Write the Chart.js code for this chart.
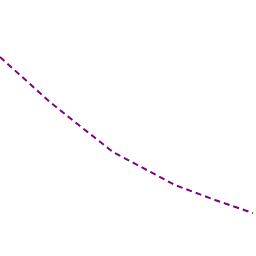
<!DOCTYPE html>
<html>
<head>
<meta charset="utf-8">
<script src="https://cdn.jsdelivr.net/npm/chart.js@4"></script>
<style>
  html, body { margin: 0; padding: 0; background: #fff; }
  #wrap { width: 256px; height: 256px; }
</style>
</head>
<body>
<div id="wrap"><canvas id="lineChart" width="256" height="256"></canvas></div>
<script>
// Values
const xValues = [0, 50, 80, 113, 175, 215, 253];
const yValues = [57, 102, 126, 152, 185, 200, 213];

const points = xValues.map((x, i) => ({ x: x, y: yValues[i] }));

const ctx = document.getElementById('lineChart').getContext('2d');
new Chart(ctx, {
    type: 'line',
    data: {
        datasets: [{
            data: points,
            borderColor: '#800080',
            borderWidth: 2,
            borderDash: [6, 4],
            pointRadius: 0,
            fill: false,
            tension: 0
        }]
    },
    options: {
        responsive: false,
        animation: false,
        layout: { padding: 0 },
        plugins: { legend: { display: false }, tooltip: { enabled: false } },
        scales: {
            x: { type: 'linear', min: 0, max: 256, display: false },
            y: { min: 0, max: 256, reverse: true, display: false }
        }
    }
});
</script>
</body>
</html>
